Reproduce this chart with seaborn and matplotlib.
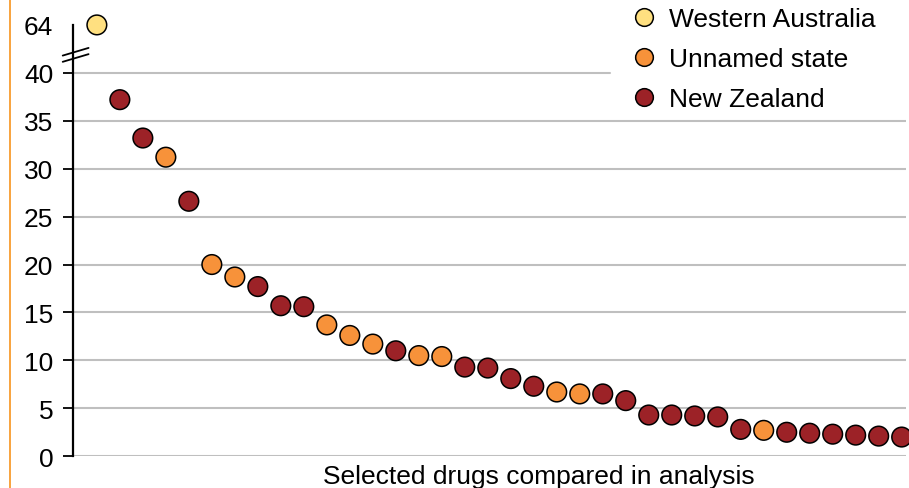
import numpy as np
import pandas as pd
import seaborn as sns
import matplotlib.pyplot as plt
from matplotlib.lines import Line2D
import matplotlib.transforms as mtransforms

# values, sorted descending
values = [64, 37.2, 33.2, 31.2, 26.6, 20.0, 18.7, 17.7, 15.7, 15.6,
          13.7, 12.6, 11.7, 11.0, 10.5, 10.4, 9.3, 9.2, 8.1, 7.3,
          6.7, 6.5, 6.5, 5.8, 4.3, 4.3, 4.2, 4.1, 2.8, 2.7,
          2.5, 2.4, 2.3, 2.2, 2.1, 2.0]
regions = ['Western Australia', 'New Zealand', 'New Zealand', 'Unnamed state', 'New Zealand',
           'Unnamed state', 'Unnamed state', 'New Zealand', 'New Zealand', 'New Zealand',
           'Unnamed state', 'Unnamed state', 'Unnamed state', 'New Zealand', 'Unnamed state',
           'Unnamed state', 'New Zealand', 'New Zealand', 'New Zealand', 'New Zealand',
           'Unnamed state', 'Unnamed state', 'New Zealand', 'New Zealand', 'New Zealand',
           'New Zealand', 'New Zealand', 'New Zealand', 'New Zealand', 'Unnamed state',
           'New Zealand', 'New Zealand', 'New Zealand', 'New Zealand', 'New Zealand',
           'New Zealand']
hue_order = ['Western Australia', 'Unnamed state', 'New Zealand']
colors = ['#FFE080', '#F7923A', '#9C2227']

yticks = [0, 5, 10, 15, 20, 25, 30, 35, 40]
break_at = 40      # values above this are drawn past the axis break
break_pos = 45     # where the broken-off value sits

df = pd.DataFrame({'drug': np.arange(len(values)), 'value': values, 'region': regions})
df['plot_y'] = np.where(df['value'] > break_at, break_pos, df['value'])

sns.set_theme(style='white')
plt.rcParams['font.family'] = ['Liberation Sans', 'DejaVu Sans']
plt.rcParams['text.color'] = 'black'
plt.rcParams['axes.labelcolor'] = 'black'
plt.rcParams['ytick.color'] = 'black'

fig, ax = plt.subplots(figsize=(9.09, 4.89), dpi=100)
fig.subplots_adjust(left=0.080, right=0.997, bottom=0.065, top=0.947)

sns.scatterplot(data=df, x='drug', y='plot_y', hue='region', hue_order=hue_order,
                palette=colors, s=200, edgecolor='black', linewidth=1.1,
                ax=ax, clip_on=False, zorder=3)

ax.set_ylim(0, break_pos)
ax.set_xlim(-1.05, 35.2)
ax.set_yticks(yticks + [break_pos])
ax.set_yticklabels([str(t) for t in yticks] + [str(max(values))], fontsize=19)
ax.tick_params(axis='y', direction='out', length=7, width=1.3, color='black', pad=7, left=True)
ax.yaxis.get_major_ticks()[-1].tick1line.set_visible(False)
ax.set_xticks([])
ax.set_ylabel('')

# gridlines; the top one stops where the legend sits
for t in yticks:
    ax.axhline(t, color='#BFBFBF', lw=1.5, zorder=1, xmax=0.644 if t == break_at else 1)

for side in ['top', 'right', 'bottom']:
    ax.spines[side].set_visible(False)
ax.spines['left'].set_color('black')
ax.spines['left'].set_linewidth(1.6)

ax.set_xlabel('Selected drugs compared in analysis', fontsize=19)
ax.xaxis.set_label_coords(0.559, -0.017)

# axis break marks
trans = mtransforms.blended_transform_factory(ax.transAxes, ax.transData)
for dy in [0, -0.65]:
    ax.plot([-0.012, 0.019], [41.8 + dy, 42.6 + dy], color='black', lw=1.3,
            transform=trans, clip_on=False, zorder=4)

leg = ax.legend(loc='upper left', bbox_to_anchor=(0.665, 1.042), fontsize=19,
                frameon=False, handletextpad=0.3, labelspacing=0.61, borderpad=0,
                borderaxespad=0, markerscale=0.9, handlelength=1.3)
leg.set_zorder(5)

# orange rule along the left edge
fig.add_artist(Line2D([0.011, 0.011], [0, 1], color='#F7941D', lw=1.2, transform=fig.transFigure))

fig.savefig('out.png', dpi=100)
